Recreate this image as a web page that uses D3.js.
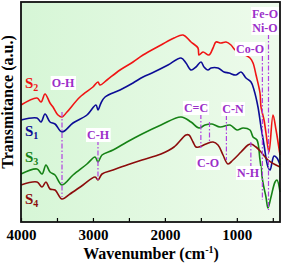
<!DOCTYPE html>
<html>
<head>
<meta charset="utf-8">
<script src="https://cdn.jsdelivr.net/npm/d3@7"></script>
<style>
body { margin: 0; background: #fff; }
text { font-family: "Liberation Serif", "Times New Roman", serif; font-weight: bold; }
</style>
</head>
<body>
<script>
// wavenumbers (cm-1) and transmittance (a.u.)
var wnS2 = [4000,3778,3722,3666,3597,3555,3486,3430,3361,3180,3000,2930,2902,2805,2624,2443,2304,2054,1873,1748,1637,1540,1526,1470,1387,1331,1290,1220,1150,1081,1025,817,775,733,678,664,622,595,553,497,455,400];
var tS2  = [117,124,120,128,119,115,107,105,110,125,135,140,137,142,152,160,167,177,184,187,180,174,167,170,167,174,180,179,180,177,172,164,159,147,129,115,102,89,70,107,92,67];

var wnS1 = [4000,3778,3722,3666,3597,3527,3430,3277,3083,2958,2930,2888,2832,2624,2443,2304,2151,1957,1776,1707,1637,1568,1498,1456,1401,1359,1262,1178,1109,1012,942,873,803,761,706,664,622,567,539,483,442,400];
var tS1  = [102,104,100,108,100,98,90,99,107,117,112,119,125,132,139,145,150,157,164,159,152,155,160,155,152,154,154,150,149,147,150,144,140,132,115,95,77,55,52,66,64,57];

var wnS3 = [4000,3778,3708,3653,3597,3527,3430,3277,3083,2971,2930,2874,2721,2527,2318,2054,1776,1637,1526,1442,1345,1234,1095,998,914,817,775,720,678,636,595,567,525,469,442,400];
var tS3  = [48,53,48,57,50,47,37,47,58,65,60,67,72,80,88,97,105,100,94,97,98,95,97,92,94,92,85,82,62,39,25,14,25,40,42,30];

var wnS4 = [4000,3778,3708,3653,3597,3527,3430,3319,3138,2971,2930,2874,2721,2527,2318,2054,1873,1707,1665,1609,1568,1526,1429,1331,1262,1192,1123,1053,942,845,803,733,664,567,483,400];
var tS4  = [37,40,35,40,33,32,23,28,37,45,42,48,52,57,62,68,75,87,87,80,75,75,78,80,77,67,58,62,70,77,78,75,70,62,58,55];

var xTicks = [4000,3500,3000,2500,2000,1500,1000,500];

// band markers: label, wavenumber, dash top / bottom (a.u.), label position
var bandNames = ["O-H","C-H","C=C","C-O","C-N","N-H","Co-O","Fe-O"];
var bandWn    = [3430,2930,1500,1380,1145,805,645,560];
var bandTop   = [110,82,108,100,107,80,166,188];
var bandBot   = [25,42,74,80,62,55,22,12];

var width = 283, height = 264;
var margin = {top: 2, right: 3, bottom: 42, left: 21};

var svg = d3.select("body").append("svg")
.attr("width", width)
.attr("height", height);

var xScale = d3.scaleLinear().domain([4000, 400]).range([margin.left, width - margin.right]);
var yScale = d3.scaleLinear().domain([0, 220]).range([height - margin.bottom, margin.top]);

var defs = svg.append("defs");
var grad = defs.append("linearGradient").attr("id", "bg").attr("x1", 0).attr("y1", 0).attr("x2", 1).attr("y2", 0);
grad.append("stop").attr("offset", "0%").attr("stop-color", "#d6f6d6");
grad.append("stop").attr("offset", "100%").attr("stop-color", "#eefbec");

svg.append("rect")
.attr("x", margin.left).attr("y", margin.top)
.attr("width", width - margin.left - margin.right)
.attr("height", height - margin.top - margin.bottom)
.attr("fill", "url(#bg)");

var linePath = d3.line()
.x(function(d) { return xScale(d[0]); })
.y(function(d) { return yScale(d[1]); })
.curve(d3.curveCatmullRom.alpha(0.5));

var series = [
  {wn: wnS2, t: tS2, color: "#f01414"},
  {wn: wnS1, t: tS1, color: "#0c0c96"},
  {wn: wnS3, t: tS3, color: "#168216"},
  {wn: wnS4, t: tS4, color: "#8c0c0c"}
];

var plot = svg.append("g");
series.forEach(function(s) {
  plot.append("path")
  .attr("fill", "none")
  .attr("stroke", s.color)
  .attr("stroke-width", 1.6)
  .attr("d", linePath(d3.zip(s.wn, s.t)));
});

// dash-dot markers
bandWn.forEach(function(w, i) {
  plot.append("line")
  .attr("x1", xScale(w)).attr("x2", xScale(w))
  .attr("y1", yScale(bandTop[i])).attr("y2", yScale(bandBot[i]))
  .attr("stroke", "#b040e0")
  .attr("stroke-width", 1.2)
  .attr("stroke-dasharray", "5,2,1.5,2");
});

// band labels on white boxes
var labelX = [63, 98, 196, 208, 233, 248, 250, 265];
var labelY = [87, 139, 112, 167, 113, 177, 53, 18];
var labs = svg.append("g");
function addLabel(txt, x, y) {
  var g = labs.append("g");
  var t = g.append("text")
  .attr("x", x).attr("y", y)
  .attr("text-anchor", "middle")
  .attr("font-size", 12)
  .attr("fill", "#9c2fc9")
  .text(txt);
  var b = t.node().getBBox();
  g.insert("rect", "text")
  .attr("x", b.x - 1).attr("y", b.y)
  .attr("width", b.width + 2).attr("height", b.height)
  .attr("fill", "#fff");
}
bandNames.forEach(function(n, i) { addLabel(n, labelX[i], labelY[i]); });
addLabel("Ni-O", 265, 32);

// series names
var sNames = ["2", "1", "3", "4"];
var sY = [88, 136, 162, 204];
series.forEach(function(s, i) {
  var t = svg.append("text")
  .attr("x", 25).attr("y", sY[i])
  .attr("font-size", 15)
  .attr("fill", s.color);
  t.append("tspan").text("S");
  t.append("tspan").attr("font-size", 10).attr("dy", 3).text(sNames[i]);
});

// axes
var xAxis = d3.axisBottom(xScale)
.tickValues(xTicks)
.tickSize(-4)
.tickPadding(7)
.tickFormat(function(d) { return d % 1000 === 0 ? d : ""; });

var xAxisGroup = svg.append("g")
.attr("transform", "translate(0," + (height - margin.bottom) + ")")
.call(xAxis);
xAxisGroup.select(".domain").remove();
xAxisGroup.selectAll("line").attr("stroke", "#000").attr("stroke-width", 1.2);
xAxisGroup.selectAll("text")
.attr("font-size", 15)
.attr("font-family", "Liberation Serif")
.attr("font-weight", "bold")
.attr("fill", "#000");

svg.append("rect")
.attr("x", margin.left).attr("y", margin.top)
.attr("width", width - margin.left - margin.right)
.attr("height", height - margin.top - margin.bottom)
.attr("fill", "none")
.attr("stroke", "#111")
.attr("stroke-width", 1.8);

var xt = svg.append("text")
.attr("x", 151).attr("y", 259)
.attr("text-anchor", "middle")
.attr("font-size", 16);
xt.append("tspan").text("Wavenumber (cm");
xt.append("tspan").attr("font-size", 10).attr("dy", -6).text("-1");
xt.append("tspan").attr("dy", 6).text(")");

svg.append("text")
.attr("transform", "translate(13,102) rotate(-90)")
.attr("text-anchor", "middle")
.attr("font-size", 16)
.text("Transmitance (a.u.)");
</script>
</body>
</html>
